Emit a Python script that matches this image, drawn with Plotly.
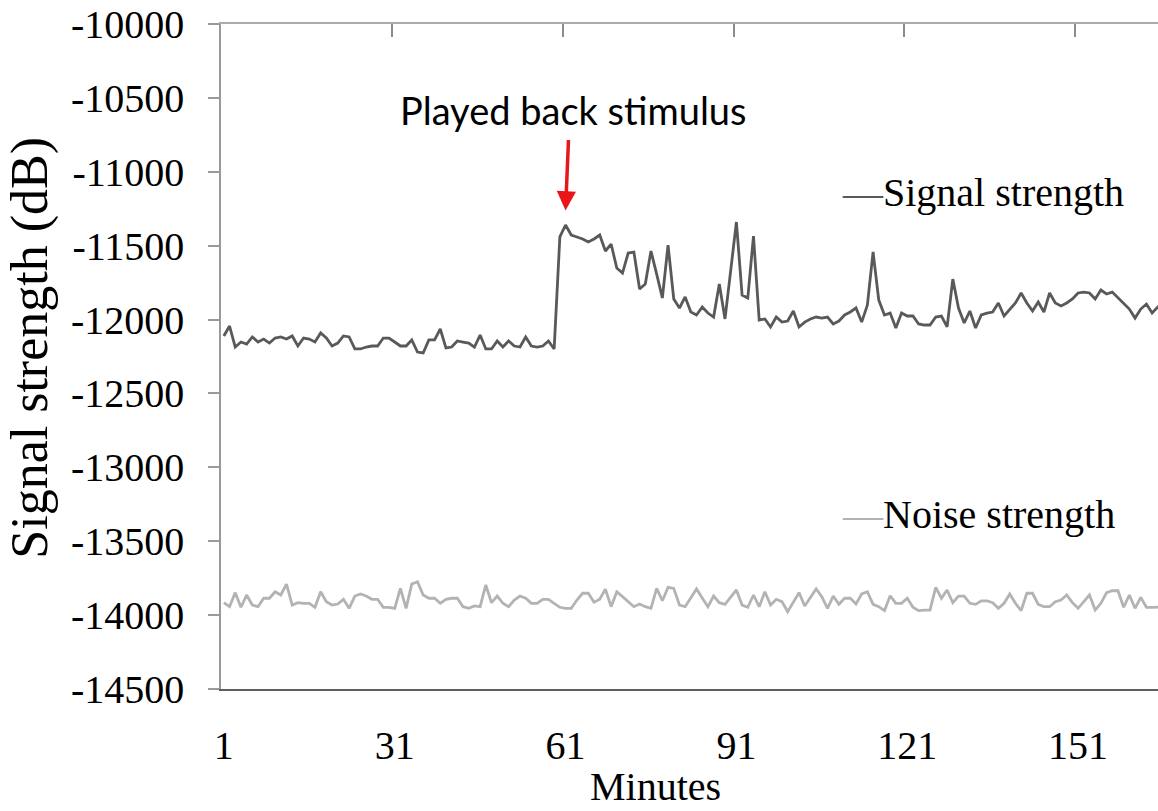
import plotly.graph_objects as go

minutes = list(range(1, 167))

signal_db = [
    -12111, -12044, -12186, -12152, -12166, -12118, -12152, -12132, -12159, -12125,
    -12118, -12132, -12111, -12179, -12125, -12132, -12152, -12091, -12125, -12179,
    -12159, -12111, -12118, -12199, -12199, -12186, -12179, -12179, -12125, -12125,
    -12152, -12179, -12179, -12138, -12220, -12226, -12138, -12138, -12064, -12192,
    -12186, -12145, -12152, -12159, -12186, -12105, -12199, -12199, -12145, -12186,
    -12145, -12179, -12186, -12118, -12179, -12186, -12179, -12145, -12199, -11441,
    -11360, -11428, -11441, -11455, -11475, -11455, -11428, -11536, -11489, -11651,
    -11685, -11550, -11543, -11793, -11759, -11536, -11692, -11854, -11496, -11861,
    -11922, -11847, -11949, -11969, -11915, -11956, -11983, -11759, -11996, -11678,
    -11340, -11834, -11854, -11435, -12003, -11996, -12050, -11983, -12017, -12010,
    -11942, -12050, -12017, -11996, -11983, -11990, -11983, -12030, -12010, -11969,
    -11949, -11922, -12017, -11902, -11543, -11868, -11969, -11956, -12057, -11956,
    -11976, -11976, -12030, -12037, -12037, -11983, -11976, -12050, -11726, -11922,
    -12023, -11942, -12057, -11969, -11956, -11949, -11888, -11976, -11929, -11888,
    -11820, -11888, -11942, -11881, -11949, -11820, -11888, -11908, -11888, -11861,
    -11820, -11814, -11820, -11861, -11800, -11827, -11814, -11854, -11888, -11929,
    -11990, -11929, -11895, -11956, -11915, -11880,
]

noise_db = [
    -13916, -13943, -13848, -13947, -13864, -13932, -13943, -13886, -13886, -13842,
    -13864, -13790, -13932, -13916, -13920, -13920, -13947, -13842, -13909, -13932,
    -13925, -13893, -13954, -13871, -13857, -13871, -13893, -13893, -13947, -13947,
    -13954, -13819, -13954, -13790, -13774, -13864, -13886, -13886, -13920, -13893,
    -13886, -13886, -13943, -13954, -13938, -13943, -13796, -13916, -13871, -13920,
    -13943, -13898, -13871, -13886, -13920, -13920, -13893, -13893, -13920, -13947,
    -13954, -13954, -13898, -13852, -13852, -13913, -13893, -13825, -13943, -13842,
    -13875, -13909, -13943, -13925, -13943, -13954, -13819, -13903, -13812, -13819,
    -13932, -13943, -13884, -13823, -13884, -13943, -13871, -13916, -13927, -13877,
    -13830, -13932, -13947, -13864, -13943, -13842, -13932, -13893, -13909, -13977,
    -13909, -13848, -13938, -13884, -13823, -13875, -13954, -13871, -13927, -13886,
    -13886, -13925, -13857, -13842, -13927, -13943, -13970, -13869, -13920, -13920,
    -13886, -13947, -13970, -13966, -13966, -13812, -13886, -13830, -13916, -13871,
    -13871, -13920, -13927, -13903, -13903, -13916, -13954, -13920, -13857, -13920,
    -13970, -13852, -13852, -13927, -13943, -13943, -13909, -13898, -13864, -13916,
    -13954, -13909, -13864, -13966, -13920, -13848, -13835, -13835, -13947, -13864,
    -13954, -13880, -13947, -13947, -13947, -13945,
]

x_tick_vals = [1, 31, 61, 91, 121, 151]
x_tick_text = ["1", "31", "61", "91", "121", "151"]
x_boundary_ticks = [30.5, 60.5, 90.5, 120.5, 150.5]
y_tick_vals = [-14500, -14000, -13500, -13000, -12500, -12000, -11500, -11000, -10500, -10000]
y_tick_text = ["-14500", "-14000", "-13500", "-13000", "-12500", "-12000", "-11500", "-11000", "-10500", "-10000"]

stimulus_minute = 61
stimulus_level = -11262

SERIF = "Liberation Serif"
SANS = "Lato"

fig = go.Figure()
fig.add_trace(go.Scatter(
    x=minutes, y=noise_db, mode="lines", name="Noise strength",
    line=dict(color="#b3b3b3", width=2.8), xaxis="x2",
))
fig.add_trace(go.Scatter(
    x=minutes, y=signal_db, mode="lines", name="Signal strength",
    line=dict(color="#595959", width=2.8),
))

x_range = [0.5, 165.03]

fig.update_layout(
    width=1158, height=811,
    margin=dict(l=221, r=0, t=24, b=122, pad=0),
    paper_bgcolor="white", plot_bgcolor="white",
    showlegend=False,
    font=dict(family=SERIF, size=40, color="black"),
    xaxis=dict(
        range=x_range, showgrid=False, zeroline=False,
        showline=True, linecolor="#5e5e5e", linewidth=2,
        ticks="", tickvals=x_tick_vals, ticktext=x_tick_text,
        tickfont=dict(family=SERIF, size=40, color="black"),
        ticklabelstandoff=20,
    ),
    xaxis2=dict(
        range=x_range, overlaying="x", side="top", matches="x",
        showgrid=False, zeroline=False,
        showline=True, linecolor="#ababab", linewidth=2,
        ticks="inside", ticklen=13, tickwidth=1.5, tickcolor="#8c8c8c",
        tickvals=x_boundary_ticks, showticklabels=False,
    ),
    yaxis=dict(
        range=[-14500, -10000], showgrid=False, zeroline=False,
        showline=True, linecolor="#9a9a9a", linewidth=1.5,
        ticks="outside", ticklen=11, tickwidth=1.5, tickcolor="#9a9a9a",
        tickvals=y_tick_vals, ticktext=y_tick_text,
        tickfont=dict(family=SERIF, size=40, color="black"),
        ticklabelstandoff=16,
    ),
)

annotations = [
    dict(text="Minutes", xref="paper", yref="paper", x=0.464, y=-0.146,
         xanchor="center", yanchor="middle", showarrow=False,
         font=dict(family=SERIF, size=40, color="black")),
    dict(text="Signal strength (dB)", xref="paper", yref="paper", x=-0.204, y=0.513,
         xanchor="center", yanchor="middle", textangle=-90, showarrow=False,
         font=dict(family=SERIF, size=52, color="black")),
    dict(text="<span style='color:#595959'>—</span>Signal strength", xref="paper", yref="paper",
         x=0.6606, y=0.747, xanchor="left", yanchor="middle", showarrow=False,
         font=dict(family=SERIF, size=40, color="black")),
    dict(text="<span style='color:#b3b3b3'>—</span>Noise strength", xref="paper", yref="paper",
         x=0.6606, y=0.2617, xanchor="left", yanchor="middle", showarrow=False,
         font=dict(family=SERIF, size=40, color="black")),
    dict(text="Played back stimulus", xref="paper", yref="paper", x=(573 - 221) / 937, y=(689 - 110) / 665,
         xanchor="center", yanchor="middle", showarrow=False,
         font=dict(family=SANS, size=38, color="black")),
    dict(text="", x=stimulus_minute, y=stimulus_level, xref="x", yref="y",
         showarrow=True, ax=3, ay=-72, arrowcolor="#e8151b", arrowwidth=3.5,
         arrowhead=2, arrowsize=1.1, standoff=0),
]
fig.update_layout(annotations=annotations)

fig.write_html("out.html")
